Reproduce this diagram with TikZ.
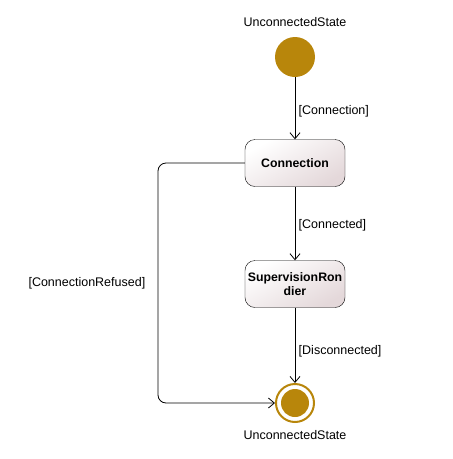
\documentclass[tikz,border=0pt]{standalone}
\usepackage{fontspec}
\setmainfont{Liberation Sans}
\usetikzlibrary{arrows.meta}
\definecolor{etatdore}{RGB}{184,134,11}
\definecolor{etatfond}{RGB}{228,216,218}
\begin{document}
\begin{tikzpicture}[x=1pt, y=-1pt]
\tikzset{etat/.style={draw, rounded corners=10pt, minimum width=100pt, minimum height=47pt, top color=white, bottom color=etatfond, shading angle=30, font=\fontsize{12.3}{14}\selectfont\bfseries, align=center, inner sep=2pt},
  trans/.style={-{Straight Barb[length=6pt, width=10pt]}, line width=0.8pt},
  etiq/.style={font=\fontsize{12.5}{14}\selectfont}}
\useasboundingbox (0, 0) rectangle (453, 459);
\node[etiq] (Tdebut) at (295, 22) {UnconnectedState};
\node[circle, fill=etatdore, minimum size=40pt, inner sep=0pt] (Debut) at (295, 57) {};
\node[etat] (Connexion) at (295, 163) {Connection};
\node[etat] (Supervision) at (295, 284) {SupervisionRon\\dier};
\node[circle, draw=etatdore, line width=2pt, minimum size=38pt, inner sep=0pt] (Fin) at (295, 403) {};
\node[circle, fill=etatdore, minimum size=28pt, inner sep=0pt] at (Fin) {};
\node[etiq] (Tfin) at (295, 435) {UnconnectedState};
\draw[trans] (Debut) -- node[etiq, right, pos=0.55] {[Connection]} (Connexion);
\draw[trans] (Connexion) -- node[etiq, right, pos=0.53] {[Connected]} (Supervision);
\draw[trans] (Supervision) -- node[etiq, right, pos=0.58] {[Disconnected]} (Fin);
\draw[trans, rounded corners=8pt] (Connexion.west) -| (158, 283) node[etiq, left=9pt] {[ConnectionRefused]} |- (Fin.west);
\end{tikzpicture}
\end{document}
